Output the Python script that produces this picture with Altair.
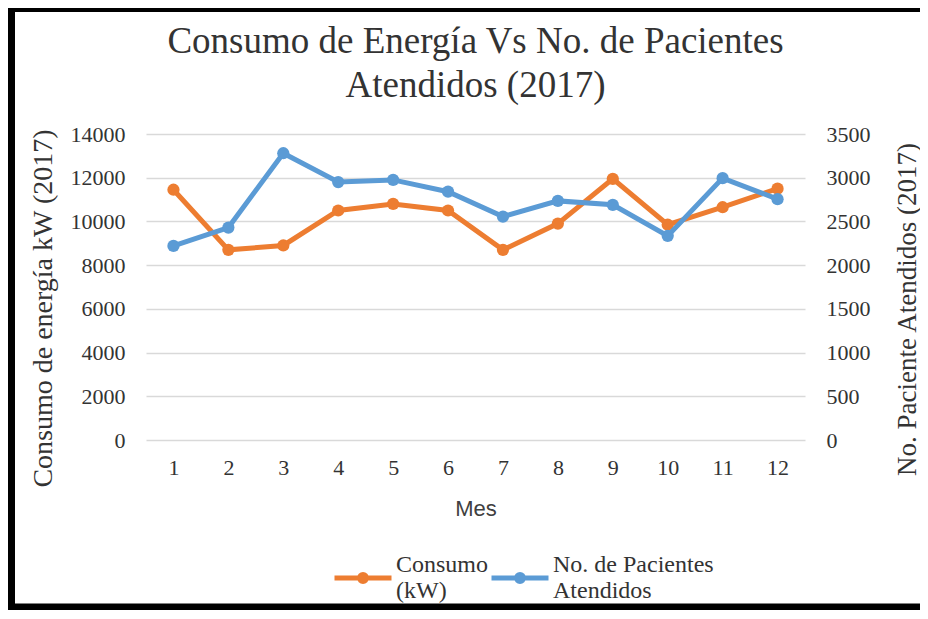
import altair as alt
import pandas as pd

meses = list(range(1, 13))
consumo = [11450, 8700, 8900, 10500, 10800, 10500, 8700, 9900, 11950, 9850, 10650, 11500]
pacientes = [2220, 2430, 3280, 2950, 2975, 2840, 2555, 2735, 2690, 2335, 2995, 2755]
series = ["Consumo|(kW)", "No. de Pacientes|Atendidos"]
colores = ["#ED7D31", "#5B9BD5"]
ticks_izq = [0, 2000, 4000, 6000, 8000, 10000, 12000, 14000]
ticks_der = [0, 500, 1000, 1500, 2000, 2500, 3000, 3500]

df1 = pd.DataFrame({"Mes": meses, "Consumo": consumo, "Serie": series[0]})
df2 = pd.DataFrame({"Mes": meses, "Pacientes": pacientes, "Serie": series[1]})

SERIF = "Liberation Serif"
TXT = "#333333"

W, H = 659, 306

legend_path = ("M-1,0L1,0"
               "M0.123,0A0.123,0.123,0,1,1,-0.123,0A0.123,0.123,0,1,1,0.123,0"
               "M0.05,0A0.05,0.05,0,1,1,-0.05,0A0.05,0.05,0,1,1,0.05,0")

color = alt.Color(
    "Serie:N",
    scale=alt.Scale(domain=series, range=colores),
    legend=alt.Legend(
        title=None,
        orient="none",
        direction="horizontal",
        legendX=186,
        legendY=413,
        symbolType=legend_path,
        symbolSize=3249,
        symbolStrokeWidth=5,
        labelExpr="split(datum.label, '|')",
        labelFont=SERIF,
        labelFontSize=24,
        labelColor=TXT,
        labelLimit=400,
        labelOffset=2,
        columnPadding=-10,
        labelBaseline="line-bottom",
    ),
)

x = alt.X(
    "Mes:O",
    axis=alt.Axis(
        title="Mes",
        labelAngle=0,
        ticks=False,
        domain=False,
        labelFont=SERIF,
        labelFontSize=22,
        labelColor=TXT,
        labelPadding=17,
        titleFont="Liberation Sans",
        titleFontSize=22,
        titleFontWeight="normal",
        titleColor="#404040",
        titleY=68,
        titleBaseline="middle",
    ),
)

linea1 = alt.Chart(df1).mark_line(
    strokeWidth=5,
    point=alt.OverlayMarkDef(filled=True, size=150, opacity=1),
).encode(
    x=x,
    y=alt.Y(
        "Consumo:Q",
        scale=alt.Scale(domain=[0, 14000]),
        axis=alt.Axis(
            orient="left",
            values=ticks_izq,
            format="d",
            title="Consumo de energía kW (2017)",
            grid=True,
            gridColor="#d9d9d9",
            gridWidth=1.5,
            ticks=False,
            domain=False,
            labelFont=SERIF,
            labelFontSize=22,
            labelColor=TXT,
            labelPadding=21,
            titleFont=SERIF,
            titleFontSize=28,
            titleFontWeight="normal",
            titleColor=TXT,
            titleAngle=270,
            titleX=-103,
            titleY=174,
            titleAlign="center",
            titleBaseline="middle",
        ),
    ),
    color=color,
)

linea2 = alt.Chart(df2).mark_line(
    strokeWidth=5,
    point=alt.OverlayMarkDef(filled=True, size=150, opacity=1),
).encode(
    x=x,
    y=alt.Y(
        "Pacientes:Q",
        scale=alt.Scale(domain=[0, 3500]),
        axis=alt.Axis(
            orient="right",
            values=ticks_der,
            format="d",
            title="No. Paciente Atendidos (2017)",
            grid=False,
            ticks=False,
            domain=False,
            labelFont=SERIF,
            labelFontSize=22,
            labelColor=TXT,
            labelPadding=21,
            titleFont=SERIF,
            titleFontSize=27,
            titleFontWeight="normal",
            titleColor=TXT,
            titleAngle=270,
            titleX=102,
            titleY=175,
            titleAlign="center",
            titleBaseline="middle",
        ),
    ),
    color=color,
)

frame_df = pd.DataFrame({"k": [0]})
borde_izq = alt.Chart(frame_df).mark_rule(color="black", strokeWidth=8, strokeCap="butt").encode(
    x=alt.value(-135), y=alt.value(-126), y2=alt.value(H + 171.5)
)
borde_sup = alt.Chart(frame_df).mark_rule(color="black", strokeWidth=8, strokeCap="butt").encode(
    x=alt.value(-139), x2=alt.value(W + 115), y=alt.value(-126)
)
borde_inf = alt.Chart(frame_df).mark_rule(color="black", strokeWidth=8, strokeCap="butt").encode(
    x=alt.value(-139), x2=alt.value(W + 115), y=alt.value(H + 167.5)
)

chart = alt.layer(borde_izq, borde_sup, borde_inf, linea1, linea2).resolve_scale(
    y="independent"
).properties(
    width=W,
    height=H,
    autosize=alt.AutoSizeParams(type="none"),
    padding={"left": 138, "top": 126, "right": 115, "bottom": 170},
    title=alt.TitleParams(
        text=["Consumo de Energía Vs No. de Pacientes", "Atendidos (2017)"],
        font=SERIF,
        fontSize=37,
        fontWeight="normal",
        color=TXT,
        anchor="middle",
        lineHeight=44,
        offset=-101,
    ),
).configure_view(strokeWidth=0)

chart.save("out.html", embed_options={"renderer": "svg", "actions": False})
